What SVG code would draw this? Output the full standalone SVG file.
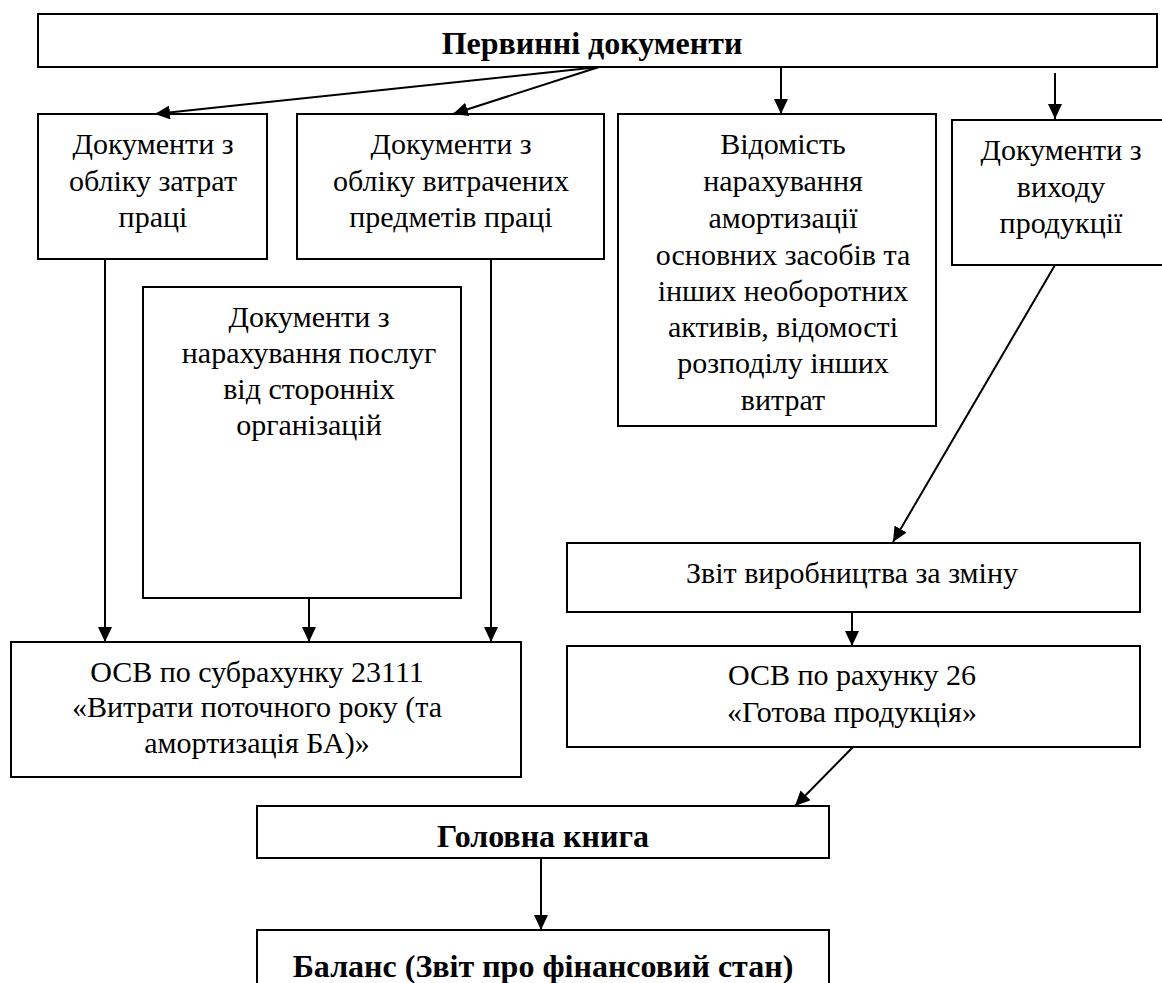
<svg xmlns="http://www.w3.org/2000/svg" width="1162" height="983" viewBox="0 0 1162 983">
<style>
.box{fill:#fff;stroke:#000;stroke-width:2}
.conn{stroke:#000;stroke-width:2;fill:none;marker-end:url(#ah)}
</style>
<defs>
<marker id="ah" markerUnits="userSpaceOnUse" markerWidth="16" markerHeight="14" refX="15" refY="7" orient="auto">
<path d="M0,0 L15,7 L0,14 z" fill="#000"/>
</marker>
</defs>
<rect width="1162" height="983" fill="#fff"/>
<g id="n-primary">
<rect class="box" x="38" y="14" width="1119" height="53"/>
<text x="592" y="54" font-family="Liberation Serif" font-size="32" font-weight="bold" text-anchor="middle">Первинні документи</text>
</g>
<g id="n-labor">
<rect class="box" x="38" y="114" width="229" height="145"/>
<text x="153" y="154" font-family="Liberation Serif" font-size="30" text-anchor="middle">Документи з</text>
<text x="153" y="191" font-family="Liberation Serif" font-size="30" text-anchor="middle">обліку затрат</text>
<text x="153" y="227" font-family="Liberation Serif" font-size="30" text-anchor="middle">праці</text>
</g>
<g id="n-materials">
<rect class="box" x="297" y="114" width="307" height="145"/>
<text x="451" y="154" font-family="Liberation Serif" font-size="30" text-anchor="middle">Документи з</text>
<text x="451" y="191" font-family="Liberation Serif" font-size="30" text-anchor="middle">обліку витрачених</text>
<text x="451" y="227" font-family="Liberation Serif" font-size="30" text-anchor="middle">предметів праці</text>
</g>
<g id="n-depreciation">
<rect class="box" x="618" y="114" width="318" height="312"/>
<text x="783" y="154" font-family="Liberation Serif" font-size="30" text-anchor="middle">Відомість</text>
<text x="783" y="191" font-family="Liberation Serif" font-size="30" text-anchor="middle">нарахування</text>
<text x="783" y="228" font-family="Liberation Serif" font-size="30" text-anchor="middle">амортизації</text>
<text x="783" y="265" font-family="Liberation Serif" font-size="30" text-anchor="middle">основних засобів та</text>
<text x="783" y="301" font-family="Liberation Serif" font-size="30" text-anchor="middle">інших необоротних</text>
<text x="783" y="337" font-family="Liberation Serif" font-size="30" text-anchor="middle">активів, відомості</text>
<text x="783" y="373" font-family="Liberation Serif" font-size="30" text-anchor="middle">розподілу інших</text>
<text x="783" y="410" font-family="Liberation Serif" font-size="30" text-anchor="middle">витрат</text>
</g>
<g id="n-output">
<rect class="box" x="952" y="120" width="222" height="145"/>
<text x="1061" y="160" font-family="Liberation Serif" font-size="30" text-anchor="middle">Документи з</text>
<text x="1061" y="197" font-family="Liberation Serif" font-size="30" text-anchor="middle">виходу</text>
<text x="1061" y="233" font-family="Liberation Serif" font-size="30" text-anchor="middle">продукції</text>
</g>
<g id="n-services">
<rect class="box" x="143" y="287" width="318" height="311"/>
<text x="309" y="327" font-family="Liberation Serif" font-size="30" text-anchor="middle">Документи з</text>
<text x="309" y="363" font-family="Liberation Serif" font-size="30" text-anchor="middle">нарахування послуг</text>
<text x="309" y="399" font-family="Liberation Serif" font-size="30" text-anchor="middle">від сторонніх</text>
<text x="309" y="435" font-family="Liberation Serif" font-size="30" text-anchor="middle">організацій</text>
</g>
<g id="n-osv23111">
<rect class="box" x="11" y="642" width="510" height="135"/>
<text x="257" y="682" font-family="Liberation Serif" font-size="30" text-anchor="middle">ОСВ по субрахунку 23111</text>
<text x="257" y="717" font-family="Liberation Serif" font-size="30" text-anchor="middle">«Витрати поточного року (та</text>
<text x="257" y="753" font-family="Liberation Serif" font-size="30" text-anchor="middle">амортизація БА)»</text>
</g>
<g id="n-shift">
<rect class="box" x="567" y="543" width="573" height="69"/>
<text x="852" y="583" font-family="Liberation Serif" font-size="30" text-anchor="middle">Звіт виробництва за зміну</text>
</g>
<g id="n-osv26">
<rect class="box" x="567" y="646" width="573" height="101"/>
<text x="852" y="685" font-family="Liberation Serif" font-size="30" text-anchor="middle">ОСВ по рахунку 26</text>
<text x="852" y="722" font-family="Liberation Serif" font-size="30" text-anchor="middle">«Готова продукція»</text>
</g>
<g id="n-ledger">
<rect class="box" x="257" y="806" width="572" height="52"/>
<text x="543" y="847" font-family="Liberation Serif" font-size="32" font-weight="bold" text-anchor="middle">Головна книга</text>
</g>
<g id="n-balance">
<rect class="box" x="257" y="930" width="572" height="70"/>
<text x="543" y="977" font-family="Liberation Serif" font-size="32" font-weight="bold" text-anchor="middle">Баланс (Звіт про фінансовий стан)</text>
</g>
<g id="connectors">
<line class="conn" x1="599" y1="67" x2="155" y2="114"/>
<line class="conn" x1="599" y1="67" x2="453" y2="114"/>
<line class="conn" x1="781" y1="67" x2="781" y2="114"/>
<line class="conn" x1="1055" y1="73" x2="1055" y2="119"/>
<line class="conn" x1="105" y1="259" x2="105" y2="642"/>
<line class="conn" x1="491" y1="259" x2="491" y2="642"/>
<line class="conn" x1="309" y1="598" x2="309" y2="642"/>
<line class="conn" x1="1055" y1="265" x2="893" y2="542"/>
<line class="conn" x1="852" y1="612" x2="852" y2="646"/>
<line class="conn" x1="853" y1="747" x2="795" y2="806"/>
<line class="conn" x1="541" y1="858" x2="541" y2="930"/>
</g>
</svg>
